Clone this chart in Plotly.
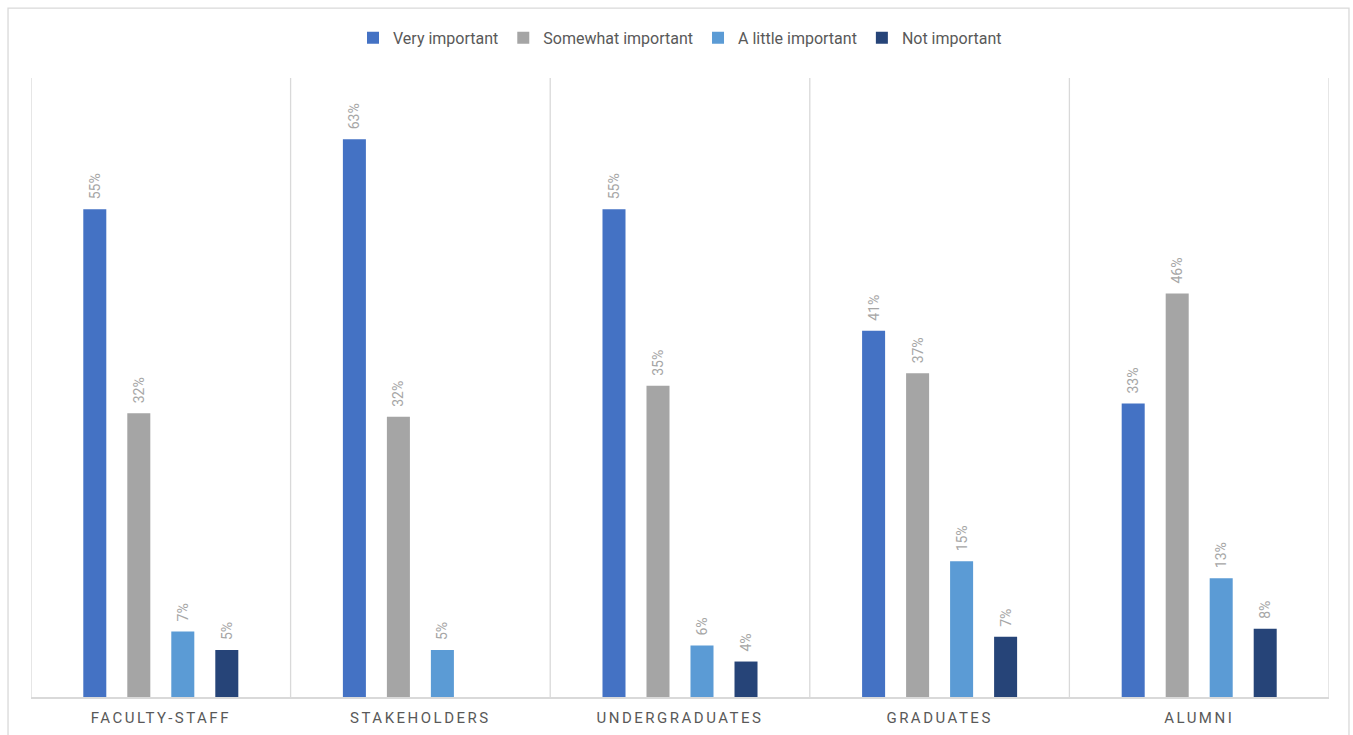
import plotly.graph_objects as go

categories = ["FACULTY-STAFF", "STAKEHOLDERS", "UNDERGRADUATES", "GRADUATES", "ALUMNI"]
series_names = ["Very important", "Somewhat important", "A little important", "Not important"]
very_important = [0.550, 0.629, 0.550, 0.413, 0.331]
somewhat_important = [0.320, 0.316, 0.351, 0.365, 0.455]
a_little_important = [0.074, 0.053, 0.058, 0.153, 0.134]
not_important = [0.053, None, 0.040, 0.068, 0.077]
colors = ["#4472C4", "#A5A5A5", "#5B9BD5", "#264478"]

font_family = "Liberation Sans Narrow, Roboto, Arial, sans-serif"

fig = go.Figure()
for name, vals, col in zip(series_names,
                           [very_important, somewhat_important, a_little_important, not_important],
                           colors):
    fig.add_trace(go.Bar(
        name=name, x=categories, y=vals, marker=dict(color=col, line=dict(width=0)),
        texttemplate="\u00a0\u00a0%{y:.0%}", textposition="outside", textangle=-90,
        constraintext="none",
        textfont=dict(color="#A6A6A6", size=14, family=font_family),
        cliponaxis=False,
    ))

shapes = []
for i in range(len(categories) + 1):
    shapes.append(dict(type="line", xref="x", yref="paper", x0=i - 0.5, x1=i - 0.5,
                       y0=0, y1=1, line=dict(color="#D9D9D9", width=1.3), layer="below"))
# outer chart border
shapes.append(dict(type="rect", xref="paper", yref="paper",
                   x0=-0.0177, x1=1.0154, y0=-0.08, y1=1.113,
                   line=dict(color="#D9D9D9", width=1.3), fillcolor="rgba(0,0,0,0)", layer="below"))

fig.update_layout(
    width=1353, height=735,
    margin=dict(l=31, r=24, t=78, b=38, autoexpand=False),
    paper_bgcolor="white", plot_bgcolor="white",
    barmode="group", bargap=0.322, bargroupgap=0.477,
    showlegend=True,
    legend=dict(orientation="h", x=0.5, xanchor="center", y=1.065, yanchor="middle",
                font=dict(size=16, color="#595959", family=font_family),
                itemwidth=30, traceorder="normal"),
    shapes=shapes,
    font=dict(family=font_family),
)
fig.update_xaxes(showline=True, linecolor="#D9D9D9", linewidth=1.5, ticks="",
                 tickfont=dict(size=15, color="#595959", family=font_family),
                 ticklabelstandoff=6, automargin=False,
                 showgrid=False, range=[-0.5, 4.5])
fig.update_yaxes(range=[0, 0.698], visible=False, showgrid=False, automargin=False)

post = """
var s = document.createElement('style');
s.innerHTML = 'html, body { margin: 0; padding: 0; overflow: hidden; } .xtick text { letter-spacing: 2.5px; }';
document.head.appendChild(s);
"""
fig.write_html("out.html", post_script=post, config={"displayModeBar": False})
